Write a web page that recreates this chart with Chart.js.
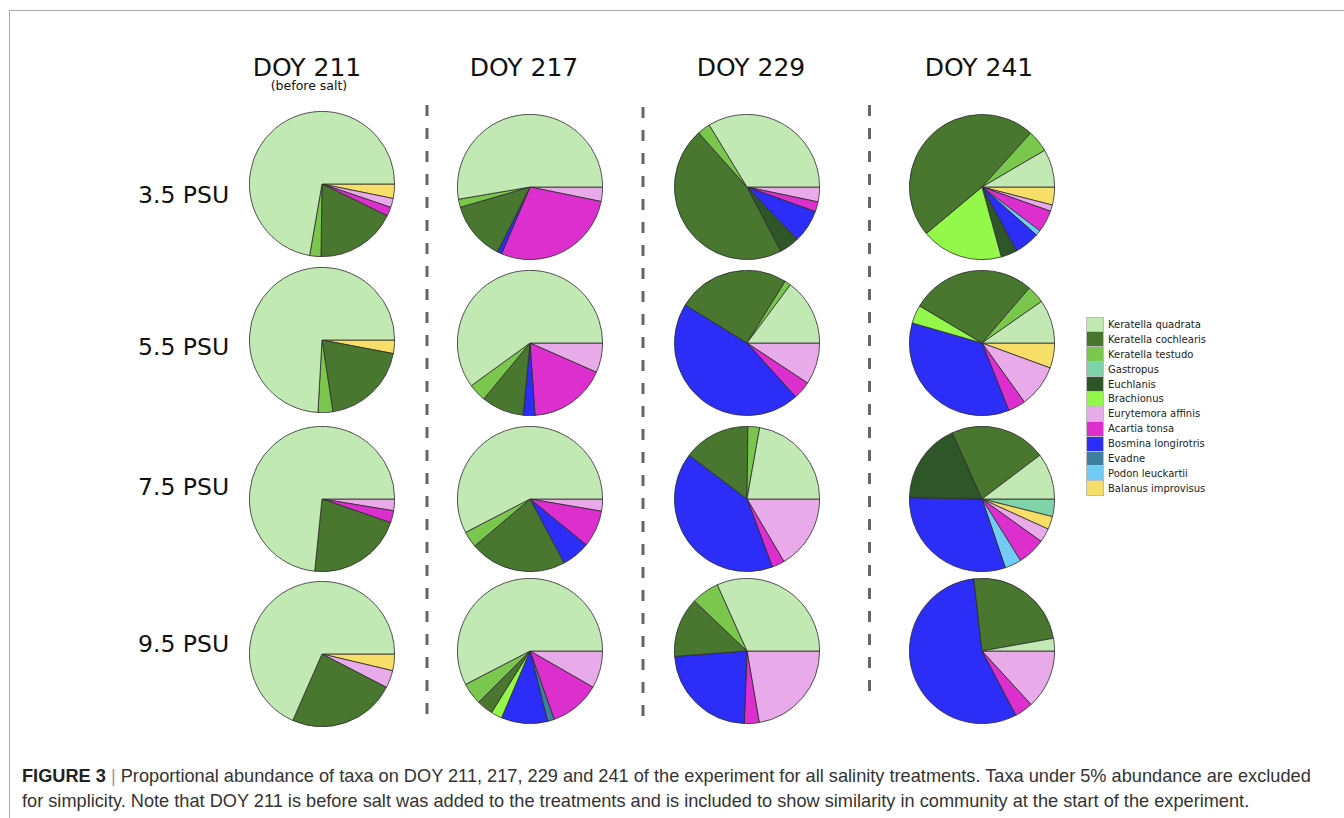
<!DOCTYPE html>
<html>
<head>
<meta charset="utf-8">
<script src="https://cdn.jsdelivr.net/npm/chart.js@4.4.1/dist/chart.umd.min.js"></script>
<style>
  body { margin: 0; background: #fff; }
  #page { position: relative; width: 1344px; height: 818px; overflow: hidden; background: #fff;
          font-family: "DejaVu Sans", Verdana, sans-serif; color: #111; }
  .frame-top { position: absolute; left: 9px; top: 10px; right: 0; border-top: 1.5px solid #aaa; }
  .frame-left { position: absolute; left: 9px; top: 10px; bottom: 0; border-left: 1.5px solid #aaa; }
  .doy { position: absolute; top: 55px; font-size: 25px; line-height: 1; white-space: nowrap; transform: translateX(-50%); }
  .sub { position: absolute; top: 80px; font-size: 12.5px; line-height: 1; white-space: nowrap; transform: translateX(-50%); }
  .psu { position: absolute; left: 138px; font-size: 23.5px; line-height: 1; white-space: nowrap; }
  .pie { position: absolute; }
  #legend { position: absolute; left: 1086px; top: 317px; }
  .item { height: 14.9px; display: flex; align-items: center; font-size: 10px; color: #222; white-space: nowrap; }
  .swatch { width: 16px; height: 13.9px; border: 0.5px solid #bbb; margin-right: 4px; }
  #caption { position: absolute; left: 22px; top: 764px; font-family: "Liberation Sans", Arial, sans-serif;
             font-size: 18.2px; line-height: 25px; color: #333; white-space: nowrap; }
  #caption b { color: #222; }
  #caption .bar { color: #999; }
  svg { position: absolute; left: 0; top: 0; }
</style>
</head>
<body>
<div id="page">
  <div class="frame-top"></div>
  <div class="frame-left"></div>
  <svg width="1344" height="818">
    <g stroke="#666" stroke-width="3" stroke-dasharray="11 12">
      <line x1="427" y1="105" x2="427" y2="718"/>
      <line x1="643" y1="107" x2="643" y2="718"/>
      <line x1="869.5" y1="105" x2="869.5" y2="701"/>
    </g>
  </svg>
  <div id="caption"><b>FIGURE 3</b> <span class="bar">|</span> Proportional abundance of taxa on DOY 211, 217, 229 and 241 of the experiment for all salinity treatments. Taxa under 5% abundance are excluded<br>for simplicity. Note that DOY 211 is before salt was added to the treatments and is included to show similarity in community at the start of the experiment.</div>
  <div id="legend"></div>
</div>
<script>
const taxa = ["Keratella quadrata", "Keratella cochlearis", "Keratella testudo", "Gastropus", "Euchlanis",
  "Brachionus", "Eurytemora affinis", "Acartia tonsa", "Bosmina longirotris", "Evadne",
  "Podon leuckartii", "Balanus improvisus"];
const taxaColors = ["#c2e9b4", "#49772f", "#7bc74d", "#7fd3a9", "#2f5629",
  "#94f84b", "#e9aaea", "#dc2fce", "#2d2df8", "#3f7fa0",
  "#72cbf5", "#f6de68"];
const days = ["DOY 211", "DOY 217", "DOY 229", "DOY 241"];
const salinity = ["3.5 PSU", "5.5 PSU", "7.5 PSU", "9.5 PSU"];

// % abundance, one row per salinity, columns in taxa order
const doy211 = [
  [72.2, 18.0, 2.5, 0, 0, 0, 2.0, 2.0, 0, 0, 0, 3.2],
  [74.1, 19.6, 3.3, 0, 0, 0, 0, 0, 0, 0, 0, 3.0],
  [73.4, 21.3, 0, 0, 0, 0, 2.6, 2.7, 0, 0, 0, 0],
  [68.4, 24.0, 0, 0, 0, 0, 3.9, 0, 0, 0, 0, 3.7]
];
const doy217 = [
  [52.7, 13.1, 1.8, 0, 0, 0, 3.2, 28.2, 1.0, 0, 0, 0],
  [60.0, 9.5, 4.0, 0, 0, 0, 6.6, 17.3, 2.6, 0, 0, 0],
  [57.6, 21.6, 3.6, 0, 0, 0, 2.7, 8.2, 6.3, 0, 0, 0],
  [57.6, 3.6, 4.9, 0, 0, 2.5, 8.3, 11.3, 10.3, 1.5, 0, 0]
];
const doy229 = [
  [33.7, 46.1, 2.9, 0, 4.4, 0, 3.3, 2.2, 7.4, 0, 0, 0],
  [14.8, 25.0, 1.4, 0, 0, 0, 9.3, 4.0, 45.5, 0, 0, 0],
  [22.2, 14.9, 2.6, 0, 0, 0, 16.5, 2.8, 41.0, 0, 0, 0],
  [31.7, 13.3, 6.2, 0, 0, 0, 22.3, 3.3, 23.2, 0, 0, 0]
];
const doy241 = [
  [8.4, 47.7, 4.9, 0, 3.6, 18.2, 1.4, 4.9, 5.6, 0, 1.2, 4.0],
  [9.7, 27.8, 4.0, 0, 0, 4.1, 9.5, 3.9, 35.5, 0, 0, 5.6],
  [10.3, 21.4, 0, 3.9, 18.0, 0, 3.1, 6.2, 30.5, 0, 3.7, 2.9],
  [2.8, 24.0, 0, 0, 0, 0, 13.2, 4.1, 55.9, 0, 0, 0]
];
// slices run counterclockwise from 3 o'clock in this order
const sliceOrder = [0, 2, 1, 5, 4, 8, 9, 10, 7, 6, 11, 3];

const allDays = [doy211, doy217, doy229, doy241];
const colX = [322, 530, 747, 982];
const rowY = [187, 343, 499, 651];
const firstColY = [184, 340, 499, 654];
const headX = [307, 524, 751, 979];
const labelY = [184, 336, 476, 633];
const page = document.getElementById("page");

days.forEach((d, i) => {
  const el = document.createElement("div");
  el.className = "doy";
  el.style.left = headX[i] + "px";
  el.textContent = d;
  page.appendChild(el);
});
const sub = document.createElement("div");
sub.className = "sub";
sub.style.left = "309px";
sub.textContent = "(before salt)";
page.appendChild(sub);

salinity.forEach((s, r) => {
  const el = document.createElement("div");
  el.className = "psu";
  el.style.top = labelY[r] + "px";
  el.textContent = s;
  page.appendChild(el);
});

const legend = document.getElementById("legend");
taxa.forEach((t, i) => {
  const item = document.createElement("div");
  item.className = "item";
  item.innerHTML = '<div class="swatch" style="background:' + taxaColors[i] + '"></div>' + t;
  legend.appendChild(item);
});

function makePie(canvas, values) {
  // Chart.js goes clockwise, so run the order backwards
  const order = sliceOrder.slice().reverse().filter((i) => values[i] > 0);
  return new Chart(canvas.getContext("2d"), {
    type: "pie",
    data: {
      labels: order.map((i) => taxa[i]),
      datasets: [
        {
          data: order.map((i) => values[i]),
          backgroundColor: order.map((i) => taxaColors[i]),
          borderColor: "#2b2b2b",
          borderWidth: 0.8,
        },
      ],
    },
    options: {
      responsive: false,
      animation: false,
      rotation: 90,
      events: [],
      plugins: { legend: { display: false }, tooltip: { enabled: false } },
    },
  });
}

allDays.forEach((rows, c) => {
  rows.forEach((values, r) => {
    const cv = document.createElement("canvas");
    cv.className = "pie";
    cv.width = 146;
    cv.height = 146;
    const cy = c === 0 ? firstColY[r] : rowY[r];
    cv.style.left = colX[c] - 73 + "px";
    cv.style.top = cy - 73 + "px";
    page.appendChild(cv);
    makePie(cv, values);
  });
});
</script>
</body>
</html>
